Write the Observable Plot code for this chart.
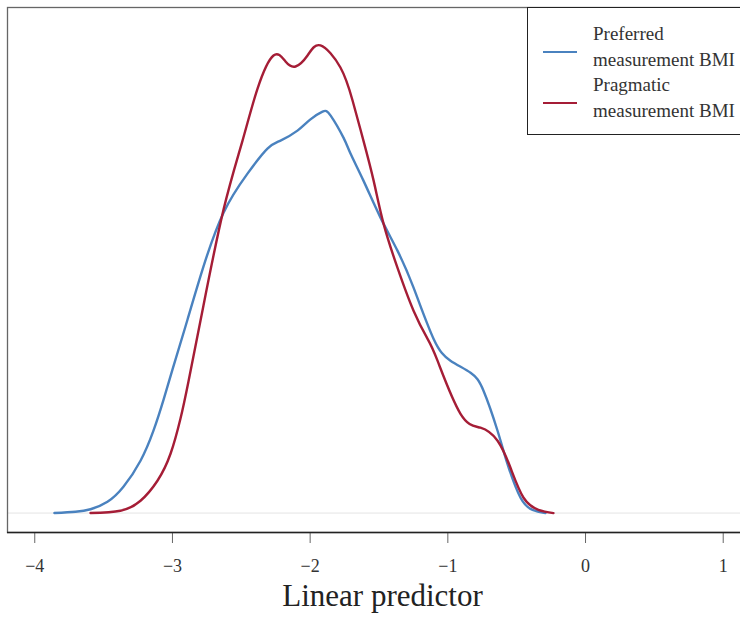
<!DOCTYPE html>
<html>
<head>
<meta charset="utf-8">
<script src="https://cdn.jsdelivr.net/npm/d3@7"></script>
<script src="https://cdn.jsdelivr.net/npm/@observablehq/plot@0.6"></script>
<style>
  html, body { margin: 0; padding: 0; background: #fff; overflow: hidden; }
  #wrap { position: relative; width: 757px; height: 623px; }
  #legend {
    position: absolute; left: 527px; top: 6.5px; width: 260px; height: 126px;
    border: 1.2px solid #222; border-right: none; background: #fff;
    font-family: "Liberation Serif", serif; font-size: 19px; color: #333;
  }
  #legend .t { position: absolute; left: 65px; line-height: 26px; white-space: nowrap; }
  #legend .sw { position: absolute; left: 15px; width: 34px; height: 2.4px; }
</style>
</head>
<body>
<div id="wrap"></div>
<script>
// Series names and colours
const seriesNames = ["Preferred measurement BMI", "Pragmatic measurement BMI"];
const seriesColors = ["#4a82bf", "#a51d36"];

// Preferred measurement BMI: linear predictor vs density
const preferredX = [-3.857, -3.704, -3.595, -3.472, -3.356, -3.232, -3.138, -3.065, -3.000, -2.891, -2.775,
  -2.629, -2.455, -2.310, -2.215, -2.092, -2.000, -1.910, -1.851, -1.758, -1.707, -1.613, -1.489,
  -1.366, -1.249, -1.104, -0.981, -0.835, -0.741, -0.639, -0.567, -0.472, -0.385, -0.291];
const preferredDensity = [0.000, 0.0021, 0.0061, 0.0181, 0.0422, 0.084, 0.1322, 0.1817, 0.2301, 0.3103, 0.3955,
  0.4822, 0.5449, 0.5850, 0.5979, 0.6139, 0.6316, 0.6445, 0.638, 0.6026, 0.577, 0.5336, 0.4742,
  0.4212, 0.3618, 0.2799, 0.2446, 0.2253, 0.1964, 0.1321, 0.0791, 0.0246, 0.0053, 0.000];

// Pragmatic measurement BMI
const pragmaticX = [-3.595, -3.378, -3.232, -3.109, -3.014, -2.942, -2.884, -2.775, -2.629, -2.491,
  -2.382, -2.266, -2.179, -2.106, -2.019, -1.925, -1.780, -1.692, -1.613, -1.539, -1.467, -1.366,
  -1.249, -1.148, -1.075, -0.908, -0.763, -0.639, -0.545, -0.450, -0.342, -0.233];
const pragmaticDensity = [0.000, 0.0037, 0.0198, 0.0519, 0.0952, 0.1514, 0.2109, 0.3329, 0.4871, 0.5979,
  0.6814, 0.7345, 0.7248, 0.7168, 0.7345, 0.7506, 0.7152, 0.6622, 0.5979, 0.5336, 0.4646, 0.3939,
  0.3248, 0.2799, 0.2446, 0.1594, 0.137, 0.1161, 0.0727, 0.0246, 0.0053, 0.000];

// Axis
const xTicks = [-4, -3, -2, -1, 0, 1];
const xTitle = "Linear predictor";
const xDomain = [-4.198, 1.249];
const yDomain = [-0.0312, 0.8115];

const preferred = preferredX.map((x, i) => ({x, y: preferredDensity[i]}));
const pragmatic = pragmaticX.map((x, i) => ({x, y: pragmaticDensity[i]}));

const chart = Plot.plot({
  width: 757,
  height: 623,
  marginLeft: 7,
  marginRight: 0,
  marginTop: 7,
  marginBottom: 91,
  style: {fontFamily: "'Liberation Serif', serif", fontSize: "18px", color: "#333", background: "#fff"},
  x: {domain: xDomain},
  y: {domain: yDomain, axis: null},
  marks: [
    Plot.ruleY([0], {stroke: "#e4e4e4", strokeWidth: 1}),
    Plot.frame({stroke: "#666", strokeWidth: 1.3}),
    Plot.axisX({ticks: xTicks, tickFormat: d3.format("d"), tickSize: 11, tickPadding: 16, stroke: "#666", fill: "#333", fontSize: 18, label: null}),
    Plot.ruleY([yDomain[0]], {stroke: "#222", strokeWidth: 1.4}),
    Plot.line(preferred, {x: "x", y: "y", stroke: seriesColors[0], strokeWidth: 2.4, curve: "natural"}),
    Plot.line(pragmatic, {x: "x", y: "y", stroke: seriesColors[1], strokeWidth: 2.4, curve: "natural"}),
    Plot.text([xTitle], {frameAnchor: "bottom", dy: 73, fontSize: 31, fill: "#222", text: d => d})
  ]
});

const wrap = document.getElementById("wrap");
wrap.appendChild(chart);

// Legend (inside the plot, top-right)
const legend = document.createElement("div");
legend.id = "legend";
const lines = [["Preferred", "measurement BMI"], ["Pragmatic", "measurement BMI"]];
lines.forEach((pair, i) => {
  const base = i * 51;
  const sw = document.createElement("div");
  sw.className = "sw";
  sw.style.top = (43 + base) + "px";
  sw.style.background = seriesColors[i];
  legend.appendChild(sw);
  pair.forEach((txt, j) => {
    const t = document.createElement("div");
    t.className = "t";
    t.style.top = (13.5 + base + j * 26) + "px";
    t.textContent = txt;
    legend.appendChild(t);
  });
});
wrap.appendChild(legend);
</script>
</body>
</html>
